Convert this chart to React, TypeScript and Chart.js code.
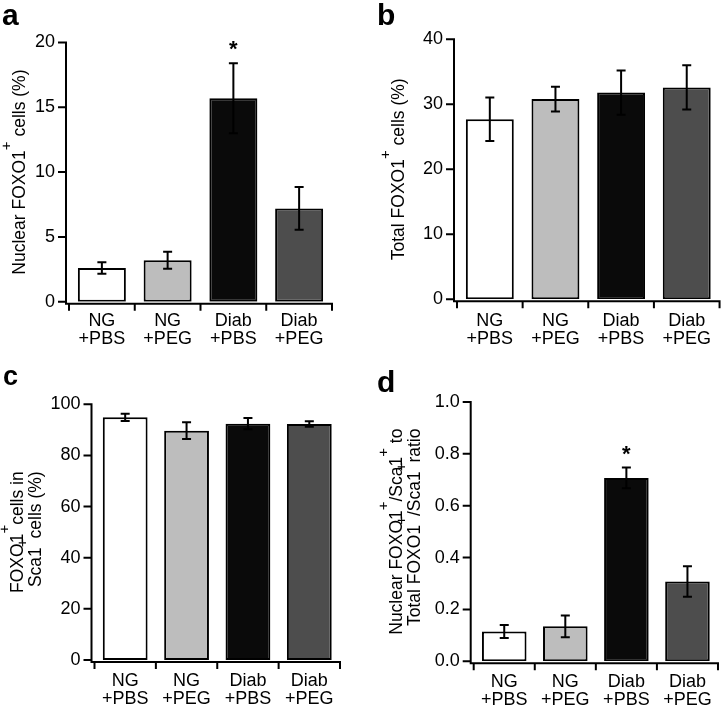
import React, { useEffect, useRef } from 'react';
import { Chart, registerables } from 'chart.js';

Chart.register(...registerables);

// ---------- data ----------
const categories = [['NG', '+PBS'], ['NG', '+PEG'], ['Diab', '+PBS'], ['Diab', '+PEG']];
const barColors = ['#ffffff', '#bdbdbd', '#0a0a0a', '#4d4d4d'];

const nuclearValues = [2.6, 3.2, 15.7, 7.2];
const nuclearErrors = [0.45, 0.65, 2.7, 1.65];
const nuclearSignificant = [false, false, true, false];

const totalValues = [27.7, 30.8, 31.8, 32.6];
const totalErrors = [3.35, 1.9, 3.4, 3.4];
const totalSignificant = [false, false, false, false];

const sca1Values = [94.9, 89.7, 92.4, 92.3];
const sca1Errors = [1.4, 3.3, 2.2, 1.05];
const sca1Significant = [false, false, false, false];

const ratioValues = [0.115, 0.135, 0.707, 0.308];
const ratioErrors = [0.025, 0.042, 0.04, 0.059];
const ratioSignificant = [false, false, true, false];

type Seg = { t: string; sup?: boolean };

const titleA: Seg[][] = [[{ t: 'Nuclear FOXO1' }, { t: '+', sup: true }, { t: ' cells (%)' }]];
const titleB: Seg[][] = [[{ t: 'Total FOXO1' }, { t: '+', sup: true }, { t: ' cells (%)' }]];
const titleC: Seg[][] = [
  [{ t: 'FOXO1' }, { t: '+', sup: true }, { t: 'cells in' }],
  [{ t: 'Sca1' }, { t: '+', sup: true }, { t: 'cells (%)' }],
];
const titleD: Seg[][] = [
  [{ t: 'Nuclear FOXO1' }, { t: '+', sup: true }, { t: '/Sca1' }, { t: '+', sup: true }, { t: ' to' }],
  [{ t: 'Total FOXO1' }, { t: '+', sup: true }, { t: '/Sca1' }, { t: '+', sup: true }, { t: 'ratio' }],
];

// ---------- styling / layout ----------
const FAMILY = "'Liberation Sans', Arial, Helvetica, sans-serif";
const TICK_SIZE = 18;
const TITLE_SIZE = 17.5;
const SUP_SIZE = 15;
const SUP_RAISE = 14;

type PanelCfg = {
  letter: string;
  letterX: number;
  letterY: number;
  letterSize: number;
  values: number[];
  errors: number[];
  significant: boolean[];
  yMax: number;
  yStep: number;
  decimals: number;
  title: Seg[][];
  titleBaselines: number[];
  titleDy: number;
  left: number;
  top: number;
  right: number;
  bottom: number;
  x: number;
  y: number;
  width: number;
  height: number;
  xPad: number;
};

const panels: PanelCfg[] = [
  {
    letter: 'a', letterX: 2, letterY: 25, letterSize: 30,
    values: nuclearValues, errors: nuclearErrors, significant: nuclearSignificant,
    yMax: 20, yStep: 5, decimals: 0,
    title: titleA, titleBaselines: [25], titleDy: 0,
    left: 69, top: 42.5, right: 332, bottom: 301.7,
    x: 0, y: 0, width: 362, height: 352, xPad: 10,
  },
  {
    letter: 'b', letterX: 15, letterY: 25, letterSize: 30,
    values: totalValues, errors: totalErrors, significant: totalSignificant,
    yMax: 40, yStep: 10, decimals: 0,
    title: titleB, titleBaselines: [42], titleDy: 0,
    left: 95, top: 39.3, right: 358, bottom: 299.3,
    x: 362, y: 0, width: 362, height: 352, xPad: 12.5,
  },
  {
    letter: 'c', letterX: 3, letterY: 33, letterSize: 27,
    values: sca1Values, errors: sca1Errors, significant: sca1Significant,
    yMax: 100, yStep: 20, decimals: 0,
    title: titleC, titleBaselines: [23, 41], titleDy: 0,
    left: 94.5, top: 52.3, right: 340, bottom: 308,
    x: 0, y: 352, width: 362, height: 353, xPad: 12,
  },
  {
    letter: 'd', letterX: 15, letterY: 40, letterSize: 30,
    values: ratioValues, errors: ratioErrors, significant: ratioSignificant,
    yMax: 1, yStep: 0.2, decimals: 1,
    title: titleD, titleBaselines: [40, 58], titleDy: 0,
    left: 111.7, top: 50, right: 359.7, bottom: 309.3,
    x: 362, y: 352, width: 362, height: 353, xPad: 12,
  },
];

function segWidth(ctx: CanvasRenderingContext2D, segs: Seg[]) {
  let w = 0;
  for (const s of segs) {
    ctx.font = `${s.sup ? SUP_SIZE : TITLE_SIZE}px ${FAMILY}`;
    w += ctx.measureText(s.t).width;
  }
  return w;
}

function makeDeco(cfg: PanelCfg) {
  return {
    id: 'deco',
    afterDatasetsDraw(chart: any) {
      const ctx: CanvasRenderingContext2D = chart.ctx;
      const meta = chart.getDatasetMeta(0);
      const ys = chart.scales.y;
      ctx.save();
      ctx.strokeStyle = '#000';
      ctx.fillStyle = '#000';
      ctx.lineWidth = 2;
      meta.data.forEach((bar: any, i: number) => {
        const v = cfg.values[i];
        const e = cfg.errors[i];
        const x = bar.x;
        const yTop = ys.getPixelForValue(v + e);
        const yBot = ys.getPixelForValue(v - e);
        ctx.beginPath();
        ctx.moveTo(x, yTop);
        ctx.lineTo(x, yBot);
        ctx.moveTo(x - 4.5, yTop);
        ctx.lineTo(x + 4.5, yTop);
        ctx.moveTo(x - 4.5, yBot);
        ctx.lineTo(x + 4.5, yBot);
        ctx.stroke();
        if (cfg.significant[i]) {
          ctx.font = `bold 22px ${FAMILY}`;
          ctx.textAlign = 'center';
          ctx.textBaseline = 'alphabetic';
          ctx.fillText('*', x, yTop - 19 + 12);
        }
      });
      ctx.restore();
    },
    afterDraw(chart: any) {
      const ctx: CanvasRenderingContext2D = chart.ctx;
      const a = chart.chartArea;
      const ys = chart.scales.y;
      const xs = chart.scales.x;
      const yl = a.left - 3;
      const xl = a.bottom + 2;
      ctx.save();
      ctx.strokeStyle = '#000';
      ctx.lineWidth = 2;
      ctx.beginPath();
      ctx.moveTo(yl, ys.getPixelForValue(cfg.yMax) - 1);
      ctx.lineTo(yl, xl + 1);
      ys.ticks.forEach((t: any) => {
        const py = ys.getPixelForValue(t.value);
        ctx.moveTo(yl - 8, py);
        ctx.lineTo(yl, py);
      });
      ctx.moveTo(yl - 1, xl);
      ctx.lineTo(a.right + 1, xl);
      for (let i = 0; i <= categories.length; i++) {
        const px = xs.getPixelForValue(i - 0.5);
        ctx.moveTo(px, xl);
        ctx.lineTo(px, xl + 7);
      }
      ctx.stroke();

      // panel letter
      ctx.fillStyle = '#000';
      ctx.font = `bold ${cfg.letterSize}px ${FAMILY}`;
      ctx.textAlign = 'left';
      ctx.textBaseline = 'alphabetic';
      ctx.fillText(cfg.letter, cfg.letterX, cfg.letterY);

      // rotated y title with superscripts
      const widths = cfg.title.map((segs) => segWidth(ctx, segs));
      const maxW = Math.max(...widths);
      const centerY = (a.top + a.bottom) / 2 + cfg.titleDy;
      cfg.title.forEach((segs, li) => {
        const bx = cfg.titleBaselines[li];
        ctx.save();
        ctx.translate(bx, centerY);
        ctx.rotate(-Math.PI / 2);
        let lx = maxW / 2 - widths[li];
        for (const s of segs) {
          ctx.font = `${s.sup ? SUP_SIZE : TITLE_SIZE}px ${FAMILY}`;
          ctx.fillText(s.t, lx, s.sup ? -SUP_RAISE : 0);
          lx += ctx.measureText(s.t).width;
        }
        ctx.restore();
      });
      ctx.restore();
    },
  };
}

function Panel({ cfg }: { cfg: PanelCfg }) {
  const ref = useRef<HTMLCanvasElement>(null);
  useEffect(() => {
    if (!ref.current) return;
    const tickFont = { family: FAMILY, size: TICK_SIZE, lineHeight: 1.0 };
    const chart = new Chart(ref.current, {
      type: 'bar',
      data: {
        labels: categories,
        datasets: [
          {
            data: cfg.values,
            backgroundColor: barColors,
            borderColor: '#000',
            borderWidth: 2,
            borderSkipped: false,
            barPercentage: 0.73,
            categoryPercentage: 1,
          },
        ],
      },
      options: {
        responsive: false,
        maintainAspectRatio: false,
        animation: false,
        layout: { padding: { left: 0, top: cfg.top, right: cfg.width - cfg.right, bottom: 0 } },
        plugins: { legend: { display: false }, tooltip: { enabled: false }, title: { display: false } },
        scales: {
          x: {
            grid: { display: false, drawTicks: false },
            border: { display: false },
            ticks: { color: '#000', font: tickFont, padding: cfg.xPad, maxRotation: 0, autoSkip: false },
            afterFit: (s: any) => {
              s.height = cfg.height - cfg.bottom;
            },
          },
          y: {
            min: 0,
            max: cfg.yMax,
            grid: { display: false, drawTicks: false },
            border: { display: false },
            ticks: {
              stepSize: cfg.yStep,
              color: '#000',
              font: tickFont,
              padding: 14,
              callback: (v: any) => Number(v).toFixed(cfg.decimals),
            },
            afterFit: (s: any) => {
              s.width = cfg.left;
            },
          },
        },
      },
      plugins: [makeDeco(cfg)],
    } as any);
    return () => chart.destroy();
  }, [cfg]);
  return (
    <canvas
      ref={ref}
      width={cfg.width}
      height={cfg.height}
      style={{ position: 'absolute', left: cfg.x, top: cfg.y, width: cfg.width, height: cfg.height }}
    />
  );
}

export default function App() {
  return (
    <div style={{ position: 'absolute', left: 0, top: 0, width: 724, height: 705, background: '#fff' }}>
      {panels.map((p) => (
        <Panel key={p.letter} cfg={p} />
      ))}
    </div>
  );
}
